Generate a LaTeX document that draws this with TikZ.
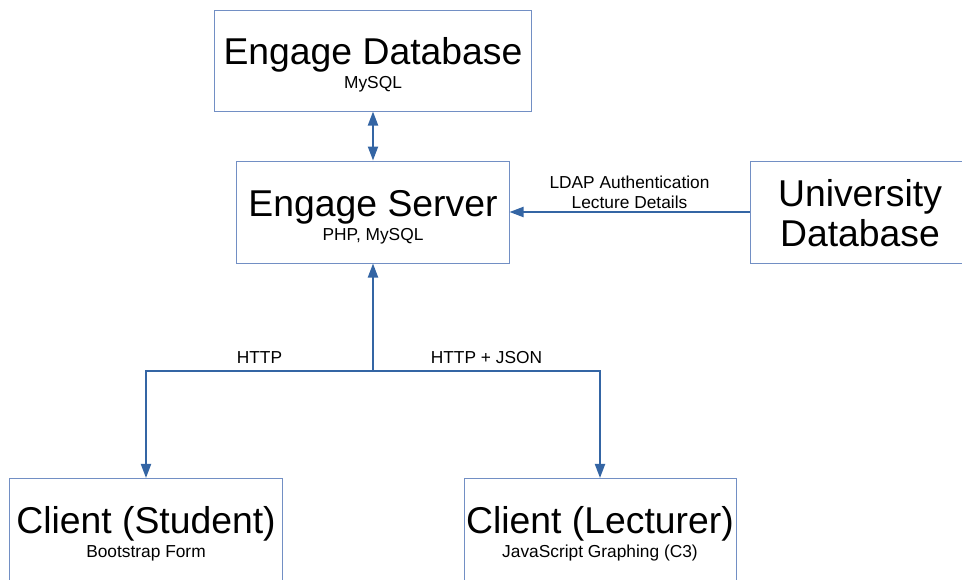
\documentclass[tikz,border=0pt]{standalone}
\usepackage{fontspec}
\setmainfont{Liberation Sans}
\usepackage{tikz}
\usetikzlibrary{arrows.meta}

\definecolor{boxline}{RGB}{114,143,196}
\definecolor{linkblue}{RGB}{52,101,164}

\tikzstyle{component} = [rectangle, minimum width=204pt, minimum height=76.5pt, inner sep=0pt, align=center, draw=boxline, line width=0.75pt, font=\fontsize{28}{18}\selectfont]
\tikzstyle{detail} = [font=\fontsize{13}{15}\selectfont, align=center, inner sep=1.5pt]
\tikzstyle{arrow} = [draw=linkblue, line width=1.5pt, ->, >={Triangle[length=10.5pt, width=7.5pt]}]
% title line with a taller strut, second line in small type
\newcommand{\topstrut}[1][27pt]{\rule{0pt}{#1}}
\newcommand{\tech}[1]{{\fontsize{13}{18}\selectfont #1}}

\begin{document}
\begin{tikzpicture} [node distance=113.6pt]
        \useasboundingbox (-279.75pt,-275.25pt) rectangle (441.75pt,159pt);

        \node (server) [component] {\topstrut Engage Server\\\tech{PHP, MySQL}};
        \node (db) [component, above of=server, minimum width=237.75pt, minimum height=75.75pt] {\topstrut Engage Database\\\tech{MySQL}};
        \node (uni) [component, right of=server, xshift=251.65pt, minimum width=165pt, font=\fontsize{28}{30}\selectfont] {\topstrut[22pt]University\\Database};
        \node (student) [component, below of=server, xshift=-170.25pt, yshift=-124.5pt] {\topstrut Client (Student)\\\tech{Bootstrap Form}};
        \node (lecturer) [component, below of=server, xshift=170.25pt, yshift=-124.5pt] {\topstrut Client (Lecturer)\\\tech{JavaScript Graphing (C3)}};
        \coordinate (split) at ([yshift=-119.25pt]server.center);

        \draw[arrow, <->] (db) -- (server);
        \draw[arrow] (uni) -- node[detail, above] {LDAP Authentication\\Lecture Details} (server);
        \draw[arrow] (split) -- (server);
        \draw[arrow] (split) -| node[detail, pos=0.25, above=3.5pt] {HTTP} (student);
        \draw[arrow] (split) -| node[detail, pos=0.25, above=3.5pt] {HTTP + JSON} (lecturer);
    \end{tikzpicture}
\end{document}
